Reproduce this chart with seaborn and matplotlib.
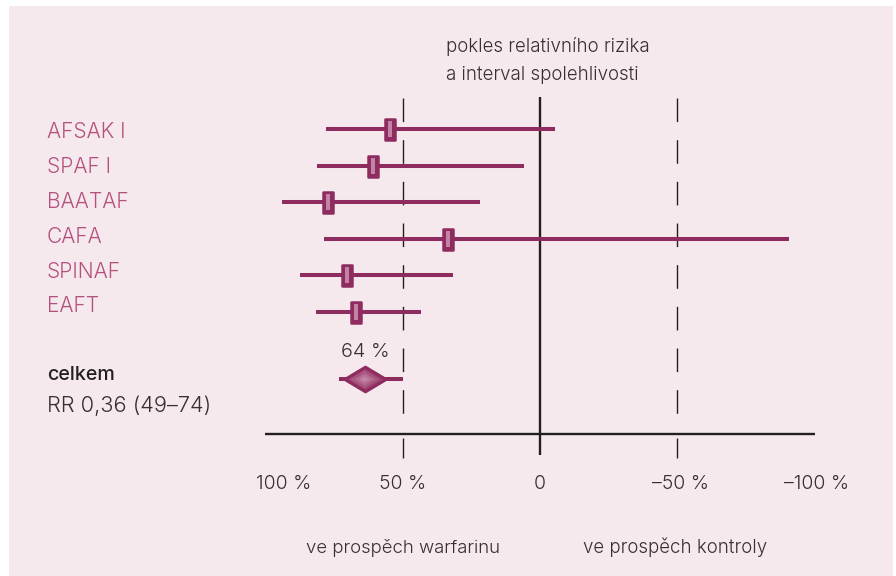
import numpy as np
import pandas as pd
import matplotlib
matplotlib.use("Agg")
import matplotlib.pyplot as plt
import seaborn as sns
from matplotlib.path import Path
from matplotlib.patches import Rectangle

# ---------------- data ----------------
studies = ["AFSAK I", "SPAF I", "BAATAF", "CAFA", "SPINAF", "EAFT"]
rrr_point = [54.7, 61.1, 77.4, 33.5, 70.5, 67.3]      # relative risk reduction (%)
rrr_low = [78.1, 81.4, 94.2, 78.8, 87.6, 81.9]        # CI end favouring warfarin
rrr_high = [-5.5, 5.8, 21.9, -90.9, 31.6, 43.3]       # CI end favouring control
overall_label = "celkem"
overall_text = "RR 0,36 (49\u201374)"
overall_point = 64
overall_low = 73.5
overall_high = 50
tick_values = [100, 50, 0, -50, -100]
tick_labels = ["100 %", "50 %", "0", "\u201350 %", "\u2013100 %"]
title_lines = ["pokles relativního rizika", "a interval spolehlivosti"]
side_labels = ["ve prospěch warfarinu", "ve prospěch kontroly"]

# ---------------- style ----------------
sns.set_theme(style="white")
plt.rcParams["font.family"] = ["Inter", "DejaVu Sans"]
BG = "#f5e9ee"
DARK = "#8e2b5f"
PINK = "#b5517f"
INK = "#363032"
LINE = "#231f20"
LIGHT = 300

W, H = 896, 576
fig = plt.figure(figsize=(W / 100, H / 100), dpi=100)
fig.patch.set_facecolor("white")
fig.patches.append(Rectangle((9 / W, 0), (893 - 9) / W, (H - 6) / H,
                             transform=fig.transFigure, facecolor=BG,
                             edgecolor="none", zorder=-10))
ax = fig.add_axes([0, 0, 1, 1])
ax.set_facecolor("none")
ax.axis("off")

# scale: 0 % at pixel 540, 2.74 px per %, first row at pixel 129.3, 36.5 px per row
X0, PPP = 540, 2.74
Y0, ROW = 129.3, 36.5
ax.set_xlim(X0 / PPP, (X0 - W) / PPP)
ax.set_ylim((H - Y0) / ROW, -Y0 / ROW)

def row(py):
    return (py - Y0) / ROW

def fx(px):
    return px / W

def fy(py):
    return 1 - py / H

rows = np.arange(len(studies))
overall_row = 6.85

# reference lines
ax.vlines(0, row(97), row(455), color=LINE, lw=1.7, zorder=1)
for v in (50, -50):
    ax.vlines(v, row(98), row(418), color=LINE, lw=1.0,
              linestyles=[(0, (17, 13))], zorder=1)
    ax.vlines(v, row(438), row(458), color=LINE, lw=1.0, zorder=1)
ax.hlines(row(434), 100.5, -100.5, color=LINE, lw=1.7, zorder=1)

# confidence intervals
ax.hlines(rows, rrr_low, rrr_high, color=DARK, lw=2.9, zorder=2)
ax.hlines(overall_row, overall_low, overall_high, color=DARK, lw=2.9, zorder=2)

# point estimate markers (rounded boxes)
box = Path([(-5, -10.5), (5, -10.5), (5, 10.5), (-5, 10.5), (-5, -10.5)],
           [Path.MOVETO, Path.LINETO, Path.LINETO, Path.LINETO, Path.CLOSEPOLY])
df = pd.DataFrame({"rrr": rrr_point, "row": rows})
sns.scatterplot(data=df, x="rrr", y="row", marker=box, s=(21 * 0.72) ** 2,
                color=DARK, edgecolor=DARK, linewidth=1.8, ax=ax, zorder=3,
                legend=False)
stripe = Path([(-2, -8), (2, -8), (2, 8), (-2, 8), (-2, -8)],
              [Path.MOVETO, Path.LINETO, Path.LINETO, Path.LINETO, Path.CLOSEPOLY])
sns.scatterplot(data=df, x="rrr", y="row", marker=stripe, s=(16 * 0.72) ** 2,
                color="#c283a5", edgecolor="none", linewidth=0, ax=ax, zorder=4,
                legend=False)

# summary diamond
diamond = Path([(-1, 0), (0, 0.6), (1, 0), (0, -0.6), (-1, 0)],
               [Path.MOVETO, Path.LINETO, Path.LINETO, Path.LINETO, Path.CLOSEPOLY])
dd = pd.DataFrame({"rrr": [overall_point], "row": [overall_row]})
sns.scatterplot(data=dd, x="rrr", y="row", marker=diamond, s=(41 * 0.72) ** 2,
                color="#9c4272", edgecolor=DARK, linewidth=2.2, ax=ax, zorder=3,
                legend=False)
for size, col in ((30, "#a9567f"), (20, "#b66c92"), (10, "#c282a3")):
    sns.scatterplot(data=dd, x="rrr", y="row", marker=diamond, s=(size * 0.72) ** 2,
                    color=col, edgecolor="none", linewidth=0, ax=ax, zorder=4,
                    legend=False)
ax.annotate(f"{overall_point} %", (overall_point, overall_row), xytext=(0.5, 20),
            textcoords="offset points", ha="center", va="center",
            fontsize=14.3, color=INK, fontweight=LIGHT)

# study labels
label_baselines = [138.3, 173.3, 208.3, 243.3, 278.3, 312.3]
for name, b in zip(studies, label_baselines):
    ax.text(fx(47), fy(b), name, transform=ax.transAxes, ha="left",
            va="baseline", fontsize=15.1, color=PINK, fontweight=LIGHT)
ax.text(fx(47), fy(379.7), overall_label, transform=ax.transAxes, ha="left",
        va="baseline", fontsize=14.2, color="#231f20", fontweight=500)
ax.text(fx(47), fy(411.7), overall_text, transform=ax.transAxes, ha="left",
        va="baseline", fontsize=15.7, color=INK, fontweight=LIGHT)

# tick labels
for v, lab in zip(tick_values, tick_labels):
    off = 18 if v == 100 else (3 if v < 0 else 0)
    ax.annotate(lab, (v, row(489)), xytext=(off * 0.72, 0), textcoords="offset points",
                ha="center", va="baseline", fontsize=14, color=INK,
                fontweight=LIGHT)

# title
ax.text(fx(446), fy(52), title_lines[0], transform=ax.transAxes, ha="left",
        va="baseline", fontsize=13.5, color=INK, fontweight=LIGHT)
ax.text(fx(446), fy(80), title_lines[1], transform=ax.transAxes, ha="left",
        va="baseline", fontsize=13.5, color=INK, fontweight=LIGHT)

# bottom side labels
ax.text(fx(306), fy(553), side_labels[0], transform=ax.transAxes, ha="left",
        va="baseline", fontsize=13.4, color=INK, fontweight=LIGHT)
ax.text(fx(583), fy(553), side_labels[1], transform=ax.transAxes, ha="left",
        va="baseline", fontsize=13.5, color=INK, fontweight=LIGHT)

fig.savefig("out.png", dpi=100, facecolor=fig.get_facecolor())
